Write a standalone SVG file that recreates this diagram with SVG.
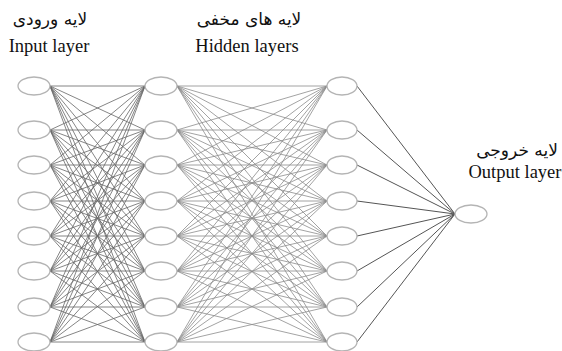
<svg xmlns="http://www.w3.org/2000/svg" width="562" height="351" viewBox="0 0 562 351">
<style>
.bg{fill:#fff}
.n{fill:#fff;stroke:#b4b4b4;stroke-width:1.3}
.a line{stroke:#666;stroke-width:0.8}
.b line{stroke:#8c8c8c;stroke-width:0.8}
.c line{stroke:#555;stroke-width:1}
.en{font-family:"Liberation Serif","Times New Roman",serif;font-size:18.5px;fill:#111;text-anchor:middle}
.fa{font-family:"DejaVu Sans","Noto Sans",sans-serif;font-size:17px;fill:#111;text-anchor:middle}
</style>
<rect class="bg" x="0" y="0" width="562" height="351"/>
<g id="labels">
<text class="fa" x="50" y="25" direction="rtl">لایه ورودی</text>
<text class="en" x="49" y="52">Input layer</text>
<text class="fa" x="249" y="25" direction="rtl">لایه های مخفی</text>
<text class="en" x="247" y="52">Hidden layers</text>
<text class="fa" x="517" y="156" direction="rtl">لایه خروجی</text>
<text class="en" x="515" y="178">Output layer</text>
</g>
<g id="connectors">
<g class="a">
<line x1="50" y1="86" x2="145" y2="86"/><line x1="50" y1="86" x2="145" y2="130"/><line x1="50" y1="86" x2="145" y2="165"/><line x1="50" y1="86" x2="145" y2="201"/><line x1="50" y1="86" x2="145" y2="236"/><line x1="50" y1="86" x2="145" y2="271"/><line x1="50" y1="86" x2="145" y2="307"/><line x1="50" y1="86" x2="145" y2="342"/>
<line x1="50" y1="130" x2="145" y2="86"/><line x1="50" y1="130" x2="145" y2="130"/><line x1="50" y1="130" x2="145" y2="165"/><line x1="50" y1="130" x2="145" y2="201"/><line x1="50" y1="130" x2="145" y2="236"/><line x1="50" y1="130" x2="145" y2="271"/><line x1="50" y1="130" x2="145" y2="307"/><line x1="50" y1="130" x2="145" y2="342"/>
<line x1="50" y1="165" x2="145" y2="86"/><line x1="50" y1="165" x2="145" y2="130"/><line x1="50" y1="165" x2="145" y2="165"/><line x1="50" y1="165" x2="145" y2="201"/><line x1="50" y1="165" x2="145" y2="236"/><line x1="50" y1="165" x2="145" y2="271"/><line x1="50" y1="165" x2="145" y2="307"/><line x1="50" y1="165" x2="145" y2="342"/>
<line x1="50" y1="201" x2="145" y2="86"/><line x1="50" y1="201" x2="145" y2="130"/><line x1="50" y1="201" x2="145" y2="165"/><line x1="50" y1="201" x2="145" y2="201"/><line x1="50" y1="201" x2="145" y2="236"/><line x1="50" y1="201" x2="145" y2="271"/><line x1="50" y1="201" x2="145" y2="307"/><line x1="50" y1="201" x2="145" y2="342"/>
<line x1="50" y1="236" x2="145" y2="86"/><line x1="50" y1="236" x2="145" y2="130"/><line x1="50" y1="236" x2="145" y2="165"/><line x1="50" y1="236" x2="145" y2="201"/><line x1="50" y1="236" x2="145" y2="236"/><line x1="50" y1="236" x2="145" y2="271"/><line x1="50" y1="236" x2="145" y2="307"/><line x1="50" y1="236" x2="145" y2="342"/>
<line x1="50" y1="271" x2="145" y2="86"/><line x1="50" y1="271" x2="145" y2="130"/><line x1="50" y1="271" x2="145" y2="165"/><line x1="50" y1="271" x2="145" y2="201"/><line x1="50" y1="271" x2="145" y2="236"/><line x1="50" y1="271" x2="145" y2="271"/><line x1="50" y1="271" x2="145" y2="307"/><line x1="50" y1="271" x2="145" y2="342"/>
<line x1="50" y1="307" x2="145" y2="86"/><line x1="50" y1="307" x2="145" y2="130"/><line x1="50" y1="307" x2="145" y2="165"/><line x1="50" y1="307" x2="145" y2="201"/><line x1="50" y1="307" x2="145" y2="236"/><line x1="50" y1="307" x2="145" y2="271"/><line x1="50" y1="307" x2="145" y2="307"/><line x1="50" y1="307" x2="145" y2="342"/>
<line x1="50" y1="342" x2="145" y2="86"/><line x1="50" y1="342" x2="145" y2="130"/><line x1="50" y1="342" x2="145" y2="165"/><line x1="50" y1="342" x2="145" y2="201"/><line x1="50" y1="342" x2="145" y2="236"/><line x1="50" y1="342" x2="145" y2="271"/><line x1="50" y1="342" x2="145" y2="307"/><line x1="50" y1="342" x2="145" y2="342"/>
</g>
<g class="b">
<line x1="177" y1="86" x2="327" y2="86"/><line x1="177" y1="86" x2="327" y2="130"/><line x1="177" y1="86" x2="327" y2="165"/><line x1="177" y1="86" x2="327" y2="201"/><line x1="177" y1="86" x2="327" y2="236"/><line x1="177" y1="86" x2="327" y2="271"/><line x1="177" y1="86" x2="327" y2="307"/><line x1="177" y1="86" x2="327" y2="342"/>
<line x1="177" y1="130" x2="327" y2="86"/><line x1="177" y1="130" x2="327" y2="130"/><line x1="177" y1="130" x2="327" y2="165"/><line x1="177" y1="130" x2="327" y2="201"/><line x1="177" y1="130" x2="327" y2="236"/><line x1="177" y1="130" x2="327" y2="271"/><line x1="177" y1="130" x2="327" y2="307"/><line x1="177" y1="130" x2="327" y2="342"/>
<line x1="177" y1="165" x2="327" y2="86"/><line x1="177" y1="165" x2="327" y2="130"/><line x1="177" y1="165" x2="327" y2="165"/><line x1="177" y1="165" x2="327" y2="201"/><line x1="177" y1="165" x2="327" y2="236"/><line x1="177" y1="165" x2="327" y2="271"/><line x1="177" y1="165" x2="327" y2="307"/><line x1="177" y1="165" x2="327" y2="342"/>
<line x1="177" y1="201" x2="327" y2="86"/><line x1="177" y1="201" x2="327" y2="130"/><line x1="177" y1="201" x2="327" y2="165"/><line x1="177" y1="201" x2="327" y2="201"/><line x1="177" y1="201" x2="327" y2="236"/><line x1="177" y1="201" x2="327" y2="271"/><line x1="177" y1="201" x2="327" y2="307"/><line x1="177" y1="201" x2="327" y2="342"/>
<line x1="177" y1="236" x2="327" y2="86"/><line x1="177" y1="236" x2="327" y2="130"/><line x1="177" y1="236" x2="327" y2="165"/><line x1="177" y1="236" x2="327" y2="201"/><line x1="177" y1="236" x2="327" y2="236"/><line x1="177" y1="236" x2="327" y2="271"/><line x1="177" y1="236" x2="327" y2="307"/><line x1="177" y1="236" x2="327" y2="342"/>
<line x1="177" y1="271" x2="327" y2="86"/><line x1="177" y1="271" x2="327" y2="130"/><line x1="177" y1="271" x2="327" y2="165"/><line x1="177" y1="271" x2="327" y2="201"/><line x1="177" y1="271" x2="327" y2="236"/><line x1="177" y1="271" x2="327" y2="271"/><line x1="177" y1="271" x2="327" y2="307"/><line x1="177" y1="271" x2="327" y2="342"/>
<line x1="177" y1="307" x2="327" y2="86"/><line x1="177" y1="307" x2="327" y2="130"/><line x1="177" y1="307" x2="327" y2="165"/><line x1="177" y1="307" x2="327" y2="201"/><line x1="177" y1="307" x2="327" y2="236"/><line x1="177" y1="307" x2="327" y2="271"/><line x1="177" y1="307" x2="327" y2="307"/><line x1="177" y1="307" x2="327" y2="342"/>
<line x1="177" y1="342" x2="327" y2="86"/><line x1="177" y1="342" x2="327" y2="130"/><line x1="177" y1="342" x2="327" y2="165"/><line x1="177" y1="342" x2="327" y2="201"/><line x1="177" y1="342" x2="327" y2="236"/><line x1="177" y1="342" x2="327" y2="271"/><line x1="177" y1="342" x2="327" y2="307"/><line x1="177" y1="342" x2="327" y2="342"/>
</g>
<g class="c">
<line x1="357" y1="86" x2="455" y2="214"/><line x1="357" y1="130" x2="455" y2="214"/><line x1="357" y1="165" x2="455" y2="214"/><line x1="357" y1="201" x2="455" y2="214"/><line x1="357" y1="236" x2="455" y2="214"/><line x1="357" y1="271" x2="455" y2="214"/><line x1="357" y1="307" x2="455" y2="214"/><line x1="357" y1="342" x2="455" y2="214"/>
</g>
</g>
<g id="input">
<g id="in1"><ellipse class="n" cx="34" cy="86" rx="16" ry="9"/></g>
<g id="in2"><ellipse class="n" cx="34" cy="130" rx="16" ry="9"/></g>
<g id="in3"><ellipse class="n" cx="34" cy="165" rx="16" ry="9"/></g>
<g id="in4"><ellipse class="n" cx="34" cy="201" rx="16" ry="9"/></g>
<g id="in5"><ellipse class="n" cx="34" cy="236" rx="16" ry="9"/></g>
<g id="in6"><ellipse class="n" cx="34" cy="271" rx="16" ry="9"/></g>
<g id="in7"><ellipse class="n" cx="34" cy="307" rx="16" ry="9"/></g>
<g id="in8"><ellipse class="n" cx="34" cy="342" rx="16" ry="9"/></g>
</g>
<g id="hidden1">
<g id="h1n1"><ellipse class="n" cx="161" cy="86" rx="16" ry="9"/></g>
<g id="h1n2"><ellipse class="n" cx="161" cy="130" rx="16" ry="9"/></g>
<g id="h1n3"><ellipse class="n" cx="161" cy="165" rx="16" ry="9"/></g>
<g id="h1n4"><ellipse class="n" cx="161" cy="201" rx="16" ry="9"/></g>
<g id="h1n5"><ellipse class="n" cx="161" cy="236" rx="16" ry="9"/></g>
<g id="h1n6"><ellipse class="n" cx="161" cy="271" rx="16" ry="9"/></g>
<g id="h1n7"><ellipse class="n" cx="161" cy="307" rx="16" ry="9"/></g>
<g id="h1n8"><ellipse class="n" cx="161" cy="342" rx="16" ry="9"/></g>
</g>
<g id="hidden2">
<g id="h2n1"><ellipse class="n" cx="342" cy="86" rx="15" ry="9"/></g>
<g id="h2n2"><ellipse class="n" cx="342" cy="130" rx="15" ry="9"/></g>
<g id="h2n3"><ellipse class="n" cx="342" cy="165" rx="15" ry="9"/></g>
<g id="h2n4"><ellipse class="n" cx="342" cy="201" rx="15" ry="9"/></g>
<g id="h2n5"><ellipse class="n" cx="342" cy="236" rx="15" ry="9"/></g>
<g id="h2n6"><ellipse class="n" cx="342" cy="271" rx="15" ry="9"/></g>
<g id="h2n7"><ellipse class="n" cx="342" cy="307" rx="15" ry="9"/></g>
<g id="h2n8"><ellipse class="n" cx="342" cy="342" rx="15" ry="9"/></g>
</g>
<g id="output">
<g id="out1"><ellipse class="n" cx="471" cy="214" rx="16" ry="9"/></g>
</g>
</svg>
